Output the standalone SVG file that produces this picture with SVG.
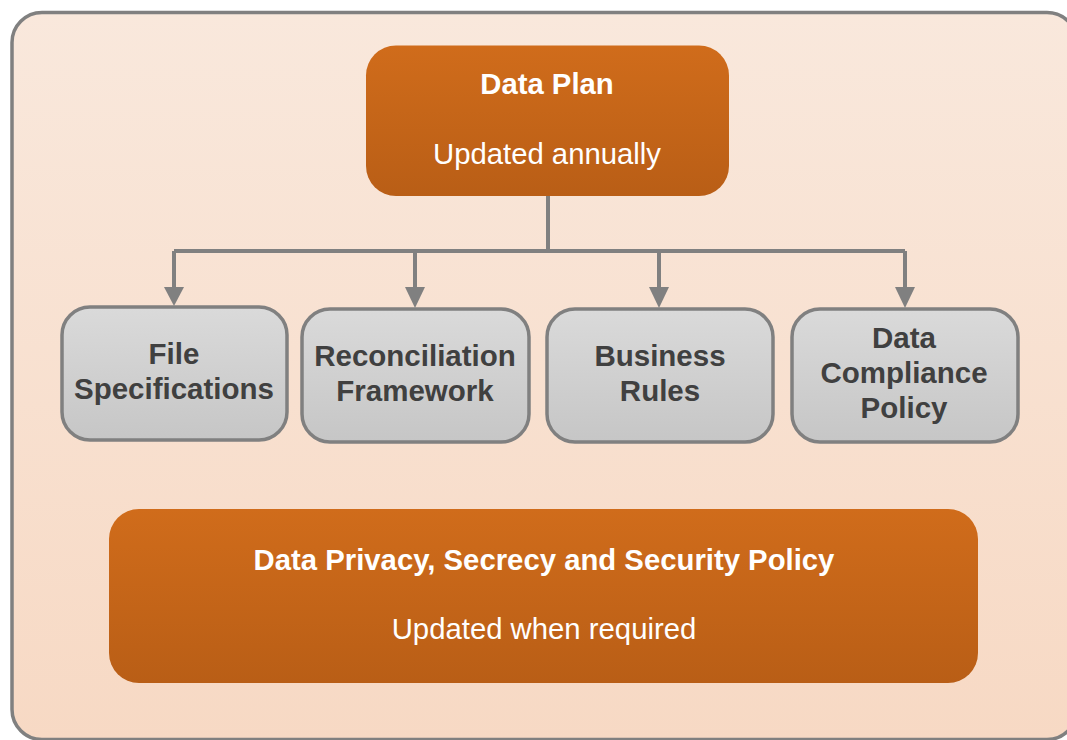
<svg xmlns="http://www.w3.org/2000/svg" width="1067" height="740" viewBox="0 0 1067 740">
<defs>
<linearGradient id="bg" x1="0" y1="0" x2="0" y2="1"><stop offset="0" stop-color="#f9e8dc"/><stop offset="1" stop-color="#f7d9c4"/></linearGradient>
<linearGradient id="org" x1="0" y1="0" x2="0" y2="1"><stop offset="0" stop-color="#d06c1b"/><stop offset="1" stop-color="#b95e16"/></linearGradient>
<linearGradient id="gry" x1="0" y1="0" x2="0" y2="1"><stop offset="0" stop-color="#dadada"/><stop offset="1" stop-color="#c6c6c6"/></linearGradient>
</defs>
<style>
.gbox{fill:url(#gry);stroke:#808080;stroke-width:3.5}
.obox{fill:url(#org)}
.gt{font-family:"Liberation Sans",Arial,sans-serif;font-weight:bold;font-size:29.5px;fill:#404040;text-anchor:middle}
.ot{font-family:"Liberation Sans",Arial,sans-serif;font-weight:bold;font-size:29.3px;fill:#ffffff;text-anchor:middle}
.os{font-family:"Liberation Sans",Arial,sans-serif;font-size:29.3px;fill:#ffffff;text-anchor:middle}
.cn{fill:none;stroke:#808080;stroke-width:4}
.ah{fill:#808080}
</style>
<rect id="container" x="12" y="12.5" width="1065" height="727" rx="30" ry="30" fill="url(#bg)" stroke="#808080" stroke-width="3.5"/>
<g id="connectors">
<path class="cn" d="M548,196 V251"/>
<path class="cn" d="M174,251 H905"/>
<path class="cn" d="M174,251 V288"/>
<path class="cn" d="M415,251 V288"/>
<path class="cn" d="M659,251 V288"/>
<path class="cn" d="M905,251 V288"/>
<path class="ah" d="M164,287 L184,287 L174,306 Z"/>
<path class="ah" d="M405,287 L425,287 L415,308 Z"/>
<path class="ah" d="M649,287 L669,287 L659,308 Z"/>
<path class="ah" d="M895,287 L915,287 L905,308 Z"/>
</g>
<g id="data-plan">
<rect class="obox" x="366" y="45.5" width="363" height="150.5" rx="30" ry="30"/>
<text class="ot" x="547" y="94">Data Plan</text>
<text class="os" x="547" y="164">Updated annually</text>
</g>
<g id="file-specifications">
<rect class="gbox" x="62" y="307" width="225" height="133" rx="28" ry="28"/>
<text class="gt" x="174" y="364">File</text>
<text class="gt" x="174" y="399">Specifications</text>
</g>
<g id="reconciliation-framework">
<rect class="gbox" x="302" y="309" width="227" height="133" rx="28" ry="28"/>
<text class="gt" x="415" y="366">Reconciliation</text>
<text class="gt" x="415" y="401">Framework</text>
</g>
<g id="business-rules">
<rect class="gbox" x="547" y="309" width="226" height="133" rx="28" ry="28"/>
<text class="gt" x="660" y="366">Business</text>
<text class="gt" x="660" y="401">Rules</text>
</g>
<g id="data-compliance-policy">
<rect class="gbox" x="792" y="309" width="226" height="133" rx="28" ry="28"/>
<text class="gt" x="904" y="348">Data</text>
<text class="gt" x="904" y="383">Compliance</text>
<text class="gt" x="904" y="418">Policy</text>
</g>
<g id="privacy-policy">
<rect class="obox" x="109" y="509" width="869" height="174" rx="30" ry="30"/>
<text class="ot" x="544" y="570">Data Privacy, Secrecy and Security Policy</text>
<text class="os" x="544" y="639">Updated when required</text>
</g>
</svg>
